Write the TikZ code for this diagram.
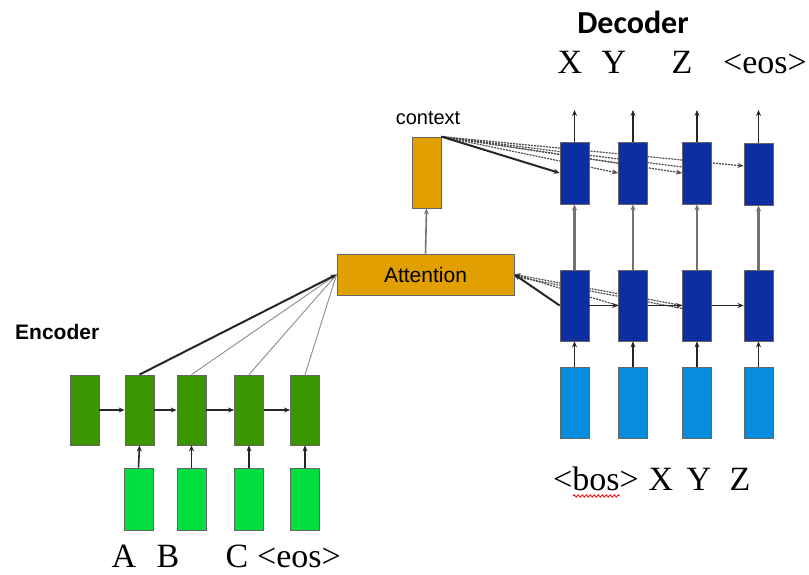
\documentclass[tikz,border=0pt]{standalone}
\usepackage{fontspec}
\setmainfont{Liberation Serif}
\newfontfamily\arialf{Liberation Sans}
\newfontfamily\calf{Carlito}
\usetikzlibrary{arrows.meta,backgrounds,decorations.pathmorphing}
\definecolor{encdark}{RGB}{58,150,0}
\definecolor{enclight}{RGB}{0,222,64}
\definecolor{decdark}{RGB}{12,46,160}
\definecolor{declight}{RGB}{6,142,220}
\definecolor{attor}{RGB}{226,160,0}
\begin{document}
\begin{tikzpicture}[x=1pt,y=-1pt,
  box/.style={draw=black!60,line width=0.8pt,minimum width=29pt,inner sep=0pt},
  ench/.style={box,fill=encdark,minimum height=70pt},
  enci/.style={box,fill=enclight,minimum height=62pt},
  dech/.style={box,fill=decdark,minimum height=71pt},
  dect/.style={box,fill=decdark,minimum height=62pt},
  deci/.style={box,fill=declight,minimum height=71pt},
  orbox/.style={draw=black!60,line width=0.8pt,fill=attor,inner sep=0pt},
  arr/.style={-{Stealth[length=6pt,width=5pt]},line width=1.6pt,draw=black!85},
  grayarr/.style={-{Stealth[length=6pt,width=5pt]},line width=2.6pt,draw=black!55},
  thinl/.style={line width=0.9pt,draw=black!45},
  dashl/.style={line width=1.2pt,draw=black!70,dash pattern=on 2pt off 1pt},
  serif/.style={font=\fontsize{34}{40}\selectfont,anchor=base,inner sep=0pt}
]
\useasboundingbox (0,0) rectangle (809,575);

% encoder
\node[ench] (e1) at (84.5,410) {};
\node[ench] (e2) at (139.5,410) {};
\node[ench] (e3) at (191.5,410) {};
\node[ench] (e4) at (249,410) {};
\node[ench] (e5) at (305,410) {};
\node[enci] (i2) at (138.5,499) {};
\node[enci] (i3) at (191.5,499) {};
\node[enci] (i4) at (249,499) {};
\node[enci] (i5) at (305,499) {};

% attention and context
\node[orbox,minimum width=177pt,minimum height=41pt,font=\arialf\fontsize{21}{24}\selectfont] (att) at (425.5,274.5) {Attention};
\node[orbox,minimum width=29pt,minimum height=71pt] (ctx) at (426.5,172.5) {};
\node[font=\arialf\fontsize{20}{24}\selectfont,inner sep=0pt] (ctxl) at (428,118) {context};

% decoder
\node[dect] (t1) at (574.5,173) {};
\node[dect] (t2) at (633,173) {};
\node[dect] (t3) at (697,173) {};
\node[dect] (t4) at (758.5,174) {};
\node[dech] (d1) at (574.5,305.5) {};
\node[dech] (d2) at (633,305.5) {};
\node[dech] (d3) at (697,305.5) {};
\node[dech] (d4) at (758.5,305.5) {};
\node[deci] (x1) at (574.5,402.5) {};
\node[deci] (x2) at (633,402.5) {};
\node[deci] (x3) at (697,402.5) {};
\node[deci] (x4) at (758.5,402.5) {};

\coordinate (o1) at (574.5,110);
\coordinate (o2) at (633,110);
\coordinate (o3) at (697,110);
\coordinate (o4) at (758.5,110);

% labels
\node[font=\arialf\bfseries\fontsize{21}{24}\selectfont,anchor=west,inner sep=0pt] (encl) at (15,332) {Encoder};
\node[font=\calf\bfseries\fontsize{32}{36}\selectfont,inner sep=0pt] (decl) at (633,22) {Decoder};

\node[serif] (lx) at (570,74) {X};
\node[serif] (ly) at (614,74) {Y};
\node[serif] (lz) at (682,74) {Z};
\node[serif] (leos) at (765,74) {<eos>};

\node[serif] (bbos) at (596,490) {<bos>};
\node[serif] (bx) at (661,490) {X};
\node[serif] (by) at (699,490) {Y};
\node[serif] (bz) at (740,490) {Z};

\node[serif] (la) at (124,567) {A};
\node[serif] (lb) at (168,567) {B};
\node[serif] (lc) at (237,567) {C};
\node[serif] (leos2) at (299,567) {<eos>};

\draw[red,line width=0.8pt,decorate,decoration={snake,amplitude=1.2pt,segment length=4pt}] (573,496) -- (620,496);

% connectors
\begin{pgfonlayer}{background}
\draw[thinl] (e3.north) -- (att.west);
\draw[thinl] (e4.north) -- (att.west);
\draw[thinl] (e5.north) -- (att.west);
\draw[dashl,-{Stealth[length=6pt,width=5pt]}] (d2.west) -- (att.east);
\draw[dashl,-{Stealth[length=6pt,width=5pt]}] (d3.west) -- (att.east);
\draw[dashl] ([yshift=-3pt]d3.west) -- ([yshift=-2pt]att.east);
\draw[dashl,-{Stealth[length=6pt,width=5pt]}] (ctx.north east) -- (t2.west);
\draw[dashl,-{Stealth[length=6pt,width=5pt]}] (ctx.north east) -- (t3.west);
\draw[dashl,-{Stealth[length=6pt,width=5pt]}] (ctx.north east) -- ([yshift=8pt]t4.west);
\draw[dashl] (ctx.north east) -- ([yshift=10pt]t2.west);
\draw[dashl] (ctx.north east) -- ([yshift=6pt]t3.west);
\end{pgfonlayer}

\draw[arr] (e1.east) -- (e2.west);
\draw[arr] (e2.east) -- (e3.west);
\draw[arr] (e3.east) -- (e4.west);
\draw[arr] (e4.east) -- (e5.west);
\draw[arr] (i2.north) -- (e2.south);
\draw[arr] (i3.north) -- (e3.south);
\draw[arr] (i4.north) -- (e4.south);
\draw[arr] (i5.north) -- (e5.south);
\draw[arr,line width=2pt] (e2.north) -- (att.west);

\draw[grayarr,line width=1.6pt] (att.north) -- (ctx.south);
\draw[arr,line width=2pt] (d1.west) -- (att.east);
\draw[arr,line width=2pt] (ctx.north east) -- (t1.west);

\draw[arr] (d1.east) -- (d2.west);
\draw[arr] (d2.east) -- (d3.west);
\draw[arr] (d3.east) -- (d4.west);

\draw[arr] (x1.north) -- (d1.south);
\draw[arr] (x2.north) -- (d2.south);
\draw[arr] (x3.north) -- (d3.south);
\draw[arr] (x4.north) -- (d4.south);

\draw[grayarr] (d1.north) -- (t1.south);
\draw[grayarr] (d2.north) -- (t2.south);
\draw[grayarr] (d3.north) -- (t3.south);
\draw[grayarr] (d4.north) -- (t4.south);

\draw[arr] (t1.north) -- (o1);
\draw[arr] (t2.north) -- (o2);
\draw[arr] (t3.north) -- (o3);
\draw[arr] (t4.north) -- (o4);
\end{tikzpicture}
\end{document}
